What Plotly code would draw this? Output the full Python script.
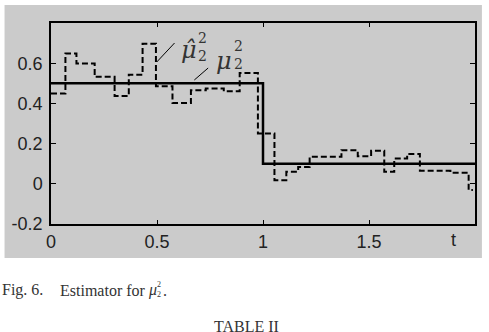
import plotly.graph_objects as go

# ---- data ----
true_t = [0.0, 1.0, 2.0]
true_mu = [0.5, 0.1, 0.1]

est_t = [0.0, 0.068, 0.12, 0.206, 0.30, 0.367, 0.432, 0.495, 0.573, 0.66, 0.73, 0.815,
         0.89, 0.976, 1.054, 1.11, 1.166, 1.22, 1.37, 1.447, 1.51, 1.572, 1.619, 1.68,
         1.74, 1.884, 1.97, 1.99]
est_mu = [0.449, 0.648, 0.598, 0.532, 0.437, 0.543, 0.697, 0.485, 0.402, 0.465, 0.474, 0.46,
          0.551, 0.25, 0.018, 0.06, 0.084, 0.135, 0.167, 0.137, 0.164, 0.06, 0.126, 0.148,
          0.065, 0.055, -0.031, -0.031]

x_ticks = [0, 0.5, 1, 1.5]
x_ticklabels = ["0", "0.5", "1", "1.5"]
y_ticks = [-0.2, 0, 0.2, 0.4, 0.6]
y_ticklabels = ["-0.2", "0", "0.2", "0.4", "0.6"]

# ---- layout constants (pixels) ----
W, H = 489, 332
L, R, T, B = 48, 12, 23, 108
PW, PH = W - L - R, H - T - B


def px(x):
    return (x - L) / PW


def py(y):
    return (T + PH - y) / PH


fig = go.Figure()
fig.add_trace(go.Scatter(x=est_t, y=est_mu, mode="lines", line_shape="hv",
                         line=dict(color="black", width=2, dash="6px,3px"),
                         showlegend=False, hoverinfo="skip"))
fig.add_trace(go.Scatter(x=true_t, y=true_mu, mode="lines", line_shape="hv",
                         line=dict(color="black", width=2.5),
                         showlegend=False, hoverinfo="skip"))

tickfont = dict(family="Liberation Sans, Arial", size=18, color="#222")
fig.update_xaxes(range=[0, 2], tickvals=x_ticks, ticktext=x_ticklabels, ticks="inside",
                 ticklen=4, tickwidth=1, tickcolor="black", mirror="ticks", showline=True,
                 linecolor="black", linewidth=1.5, showgrid=False, zeroline=False,
                 tickfont=tickfont, ticklabelstandoff=1)
fig.update_yaxes(range=[-0.2, 0.8], tickvals=y_ticks, ticktext=y_ticklabels, ticks="inside",
                 ticklen=5, tickwidth=1, tickcolor="black", mirror="ticks", showline=True,
                 linecolor="black", linewidth=1.5, showgrid=False, zeroline=False,
                 tickfont=tickfont, ticklabelstandoff=3)

shapes = [
    dict(type="rect", xref="paper", yref="paper", x0=px(1), x1=px(484), y0=py(5), y1=py(258),
         fillcolor="#cbcbcb", line=dict(width=0), layer="below"),
    dict(type="line", xref="paper", yref="paper", x0=px(155), y0=py(62), x1=px(173), y1=py(43),
         line=dict(color="black", width=1)),
    dict(type="line", xref="paper", yref="paper", x0=px(193), y0=py(80), x1=px(207), y1=py(68),
         line=dict(color="black", width=1)),
]

serif = "DejaVu Serif"
ann = []


def add_text(text, x, y, size, family=serif, color="#333", xanchor="center", yanchor="middle"):
    ann.append(dict(text=text, x=px(x), y=py(y), xref="paper", yref="paper", showarrow=False,
                    xanchor=xanchor, yanchor=yanchor, borderpad=0,
                    font=dict(family=family, size=size, color=color)))


# labels in plot
add_text("<i>μ̂</i>", 197, 50, 24, xanchor="right")
add_text("2<br>2", 196, 47, 14, xanchor="left")
add_text("<i>μ</i>", 232, 61, 24, xanchor="right")
add_text("2<br>2", 232, 55, 14, xanchor="left")
# axis letter
add_text("t", 455, 240, 18, family="Liberation Sans, Arial", color="#222")
# caption
cap = "Liberation Serif, Times New Roman"
add_text("Fig. 6.", -3, 290, 16, family=cap, xanchor="left")
add_text("Estimator for", 56, 290, 16, family=cap, xanchor="left")
add_text("<i>μ</i>", 145, 290, 16, family=cap, xanchor="left")
add_text("2<br>2", 154, 289, 8, family=cap, xanchor="left")
add_text(".", 160, 290, 16, family=cap, xanchor="left")
add_text("TABLE II", 246, 326, 16, family=cap)

fig.update_layout(width=W, height=H, margin=dict(l=L, r=R, t=T, b=B),
                  paper_bgcolor="white", plot_bgcolor="white",
                  shapes=shapes, annotations=ann)

fig.write_html("out.html")
